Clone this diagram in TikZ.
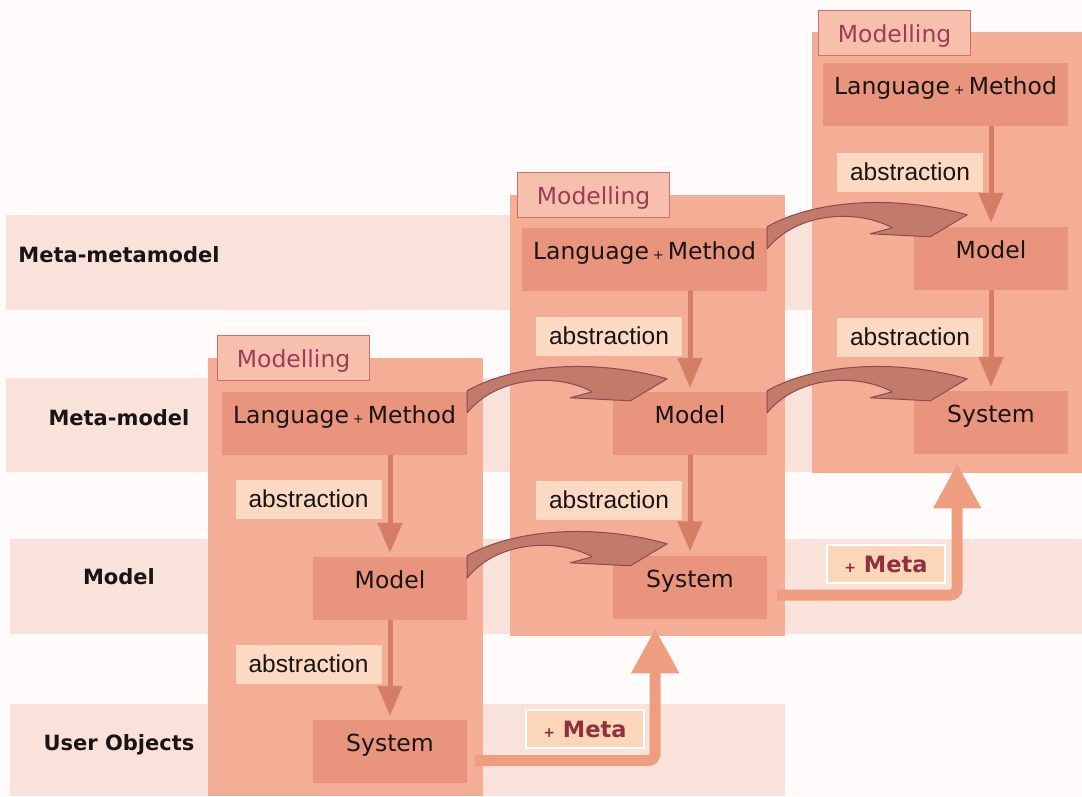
\documentclass[tikz,border=0pt]{standalone}
\usepackage{fontspec}
\setmainfont{DejaVu Sans}
\newfontfamily\comicfont{DejaVu Sans}
\newfontfamily\absfont{Liberation Sans}
\usetikzlibrary{arrows.meta,calc}

\definecolor{pagebg}{HTML}{FEFBFA}
\definecolor{bandc}{HTML}{F9E2DA}
\definecolor{colc}{HTML}{F4AE96}
\definecolor{boxc}{HTML}{E9957D}
\definecolor{absc}{HTML}{FBD9C3}
\definecolor{tabc}{HTML}{F7C0AC}
\definecolor{tabline}{HTML}{C7706F}
\definecolor{tabtext}{HTML}{9B3D58}
\definecolor{metac}{HTML}{FBD6B8}
\definecolor{metatext}{HTML}{8E3040}
\definecolor{varc}{HTML}{D47E66}
\definecolor{metaac}{HTML}{EE9D7F}
\definecolor{swc}{HTML}{C27A6B}
\definecolor{swline}{HTML}{8C4A52}
\definecolor{inkc}{HTML}{1A1414}

% fat curved arrow leaving the right edge of a box
\newcommand\drawswoosh[1]{%
  \begin{scope}[shift={(#1)}]
    \filldraw[swooshstyle] (0,-1) .. controls (45,-27) and (125,-34) .. (200,-13)
      -- (163,9) -- (103,6) -- (125,0)
      .. controls (90,-19) and (30,-16) .. (0,21) -- cycle;
  \end{scope}}

\begin{document}
\begin{tikzpicture}[x=1pt,y=-1pt,
  band/.style={fill=bandc},
  column/.style={fill=colc, inner sep=0pt, anchor=north west},
  tab/.style={fill=tabc, draw=tabline, line width=1.2pt, text=tabtext,
    minimum width=152pt, minimum height=45pt, inner sep=0pt, anchor=north west,
    text depth=0pt, font=\comicfont\fontsize{23.5}{27}\selectfont},
  box/.style={fill=boxc, inner sep=0pt, text=inkc, text height=9pt, text depth=9pt,
    minimum height=63pt, font=\comicfont\fontsize{23.5}{27}\selectfont},
  lmbox/.style={box, minimum width=245pt},
  smbox/.style={box, minimum width=154pt},
  abslabel/.style={fill=absc, minimum width=146pt, minimum height=39pt, inner sep=0pt,
    text=inkc, font=\absfont\fontsize{24.5}{28}\selectfont},
  metalabel/.style={fill=metac, draw=white, line width=2pt, minimum width=118pt,
    minimum height=38pt, inner sep=0pt, text=metatext,
    font=\comicfont\bfseries\fontsize{22.5}{26}\selectfont},
  rowlabel/.style={anchor=base, text=inkc, font=\comicfont\bfseries\fontsize{21}{25}\selectfont},
  varrow/.style={draw=varc, line width=5pt, -{Triangle[length=30pt,width=24pt]}},
  metaarrow/.style={draw=metaac, line width=11pt, rounded corners=7pt,
    -{Triangle[length=45pt,width=45pt]}},
  swooshstyle/.style={fill=swc, draw=swline, line width=1pt, line join=round}
]
\useasboundingbox[fill=pagebg] (0,0) rectangle (1082,796);

% level bands
\fill[band] (6,215) rectangle (1082,310);
\fill[band] (6,378) rectangle (1082,472);
\fill[band] (10,539) rectangle (1082,634);
\fill[band] (10,704) rectangle (785,796);

% level names
\node[rowlabel] (lvl3) at (119,262) {Meta-metamodel};
\node[rowlabel] (lvl2) at (119,425) {Meta-model};
\node[rowlabel] (lvl1) at (119,584) {Model};
\node[rowlabel] (lvl0) at (119,750) {User Objects};

% modelling columns
\node[column, minimum width=275pt, minimum height=438pt] (c1) at (208,358) {};
\node[column, minimum width=275pt, minimum height=441pt] (c2) at (510,195) {};
\node[column, minimum width=270pt, minimum height=441pt] (c3) at (812,32) {};

\node[tab] (t1) at (217,335) {Modelling};
\node[tab] (t2) at (517,172) {Modelling};
\node[tab] (t3) at (818,10) {Modelling};

% boxes inside the columns
\newcommand\lm{Language\,{\fontsize{13}{13}\selectfont +}\,Method}
\node[lmbox] (lm1) at (344.5,423.5) {\lm};
\node[smbox] (mo1) at (390,588.5) {Model};
\node[smbox] (sy1) at (390,751.5) {System};

\node[lmbox] (lm2) at (644.5,259.5) {\lm};
\node[smbox] (mo2) at (690,423.5) {Model};
\node[smbox] (sy2) at (690,587) {System};

\node[lmbox] (lm3) at (945.5,94.5) {\lm};
\node[smbox] (mo3) at (991,258.5) {Model};
\node[smbox] (sy3) at (991,422.5) {System};

% abstraction steps
\node[abslabel] (a1a) at (308.5,499) {abstraction};
\node[abslabel] (a1b) at (308.5,664) {abstraction};
\node[abslabel] (a2a) at (609,336) {abstraction};
\node[abslabel] (a2b) at (609,500) {abstraction};
\node[abslabel] (a3a) at (910,172) {abstraction};
\node[abslabel] (a3b) at (910,337) {abstraction};

\draw[varrow, shorten >=4pt] (lm1.south -| mo1) -- (mo1.north);
\draw[varrow, shorten >=4pt] (mo1.south) -- (sy1.north);
\draw[varrow, shorten >=4pt] (lm2.south -| mo2) -- (mo2.north);
\draw[varrow, shorten >=4pt] (mo2.south) -- (sy2.north);
\draw[varrow, shorten >=4pt] (lm3.south -| mo3) -- (mo3.north);
\draw[varrow, shorten >=4pt] (mo3.south) -- (sy3.north);

% "+ Meta" lifts a system into the next column
\draw[metaarrow] ($(sy1.east)+(8,9)$) -| ($(c2.south)+(7.5,-8)$);
\draw[metaarrow] ($(sy2.east)+(10,8)$) -| ($(c3.south)+(10,-10)$);
\node[metalabel] (m1) at (585,729) {{\fontsize{14}{14}\selectfont +}\ Meta};
\node[metalabel] (m2) at (886,564) {{\fontsize{14}{14}\selectfont +}\ Meta};

% language and model become the model and system of the next level
\drawswoosh{lm1.north east}
\drawswoosh{mo1.north east}
\drawswoosh{lm2.north east}
\drawswoosh{mo2.north east}
\end{tikzpicture}
\end{document}
